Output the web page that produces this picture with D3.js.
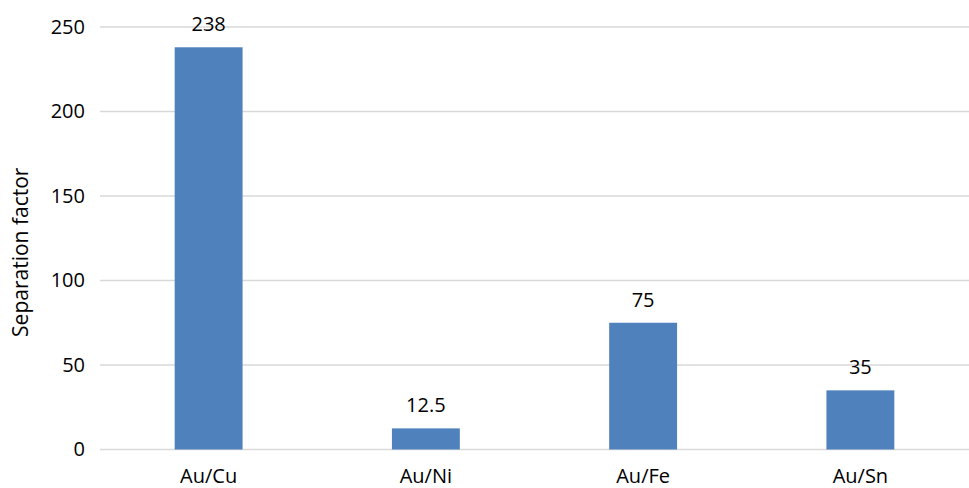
<!DOCTYPE html>
<html>
<head>
<meta charset="utf-8">
<script src="https://cdn.jsdelivr.net/npm/d3@7"></script>
<style>
  html, body { margin: 0; padding: 0; background: #fff; }
  svg text { font-family: "Open Sans", sans-serif; fill: #000; }
</style>
</head>
<body>
<svg id="chart" width="969" height="488"></svg>
<script>
// Separation factors of gold against other metals
const categories = ["Au/Cu", "Au/Ni", "Au/Fe", "Au/Sn"];
const values = [238, 12.5, 75, 35];
const valueLabels = ["238", "12.5", "75", "35"];
const yTicks = [0, 50, 100, 150, 200, 250];
const yTitle = "Separation factor";

const svg = d3.select("#chart");
const plot = { left: 100, right: 969, top: 27, bottom: 449.5 };

const x = d3.scaleBand()
  .domain(categories)
  .range([plot.left, plot.right])
  .paddingInner(0.6875)
  .paddingOuter(0.34375);

const y = d3.scaleLinear()
  .domain([0, 250])
  .range([plot.bottom, plot.top]);

// horizontal gridlines
svg.append("g")
  .selectAll("line")
  .data(yTicks)
  .join("line")
  .attr("x1", plot.left)
  .attr("x2", plot.right)
  .attr("y1", d => y(d))
  .attr("y2", d => y(d))
  .attr("stroke", "#d9d9d9")
  .attr("stroke-width", 1.5);

// y axis tick labels
const yAxis = d3.axisLeft(y).tickValues(yTicks).tickSize(0).tickPadding(15);
const gy = svg.append("g")
  .attr("transform", `translate(${plot.left},0)`)
  .call(yAxis);
gy.select(".domain").remove();
gy.selectAll("text")
  .attr("font-size", 20)
  .attr("font-family", "'Open Sans', sans-serif")
  .attr("fill", "#000");

// bars
svg.append("g")
  .selectAll("rect")
  .data(values)
  .join("rect")
  .attr("x", (d, i) => x(categories[i]))
  .attr("width", x.bandwidth())
  .attr("y", d => y(d))
  .attr("height", d => y(0) - y(d))
  .attr("fill", "#4f81bd");

// value labels
svg.append("g")
  .selectAll("text")
  .data(values)
  .join("text")
  .attr("x", (d, i) => x(categories[i]) + x.bandwidth() / 2)
  .attr("y", d => y(d) - 16)
  .attr("text-anchor", "middle")
  .attr("font-size", 20)
  .text((d, i) => valueLabels[i]);

// x axis category labels
const xAxis = d3.axisBottom(x).tickSize(0).tickPadding(19);
const gx = svg.append("g")
  .attr("transform", `translate(0,${plot.bottom})`)
  .call(xAxis);
gx.select(".domain").remove();
gx.selectAll("text")
  .attr("font-size", 20)
  .attr("font-family", "'Open Sans', sans-serif")
  .attr("fill", "#000");

// y axis title
svg.append("text")
  .attr("transform", `translate(28,${(plot.top + plot.bottom) / 2 + 14}) rotate(-90)`)
  .attr("text-anchor", "middle")
  .attr("font-size", 21)
  .text(yTitle);
</script>
</body>
</html>
